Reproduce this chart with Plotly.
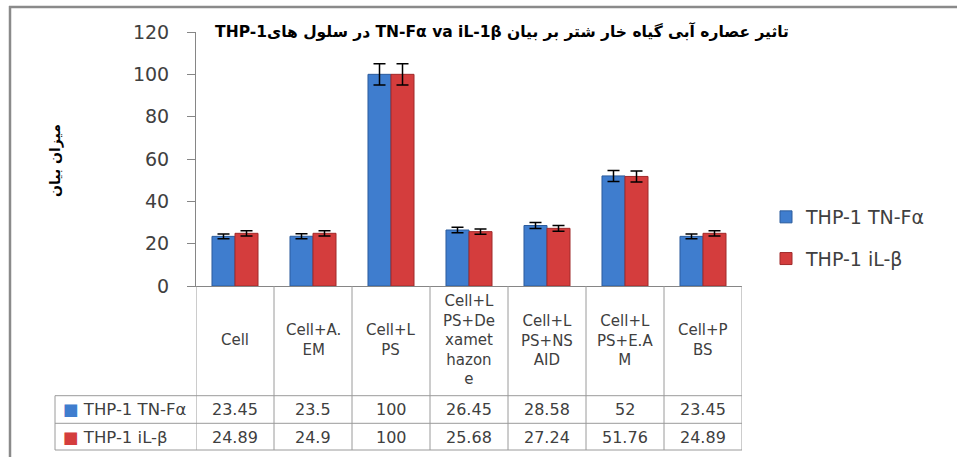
import plotly.graph_objects as go

# ---------------- data ----------------
categories = ["Cell", "Cell+A.EM", "Cell+LPS", "Cell+LPS+Dexamethazone",
              "Cell+LPS+NSAID", "Cell+LPS+E.AM", "Cell+PBS"]
category_labels = ["Cell", "Cell+A.<br>EM", "Cell+L<br>PS",
                   "Cell+L<br>PS+De<br>xamet<br>hazon<br>e",
                   "Cell+L<br>PS+NS<br>AID", "Cell+L<br>PS+E.A<br>M", "Cell+P<br>BS"]
series_names = ["THP-1 TN-Fα", "THP-1 iL-β"]
tnf_values = [23.45, 23.5, 100, 26.45, 28.58, 52, 23.45]
il_values = [24.89, 24.9, 100, 25.68, 27.24, 51.76, 24.89]
error_percent = 5
y_ticks = [0, 20, 40, 60, 80, 100, 120]

title_text = "تاثیر عصاره آبی گیاه خار شتر بر بیان TN-Fα va iL-1β در سلول هایTHP-1"
y_title_text = "میزان بیان"

# ---------------- style ----------------
BLUE = "#3F7DCE"
BLUE_EDGE = "#2C5C9C"
RED = "#D43D3D"
RED_EDGE = "#A02A2A"
GRID = "#9A9A9A"
AXIS = "#868686"
TXT = "#404040"
FONT = "DejaVu Sans"

W, H = 957, 457
L, R, T, B = 196, 215, 32, 171
PW = W - L - R
PH = H - T - B


def px_x(p):
    return (p - L) / PW


def px_y(p):
    return (H - B - p) / PH


fig = go.Figure()
for name, vals, col, edge in [(series_names[0], tnf_values, BLUE, BLUE_EDGE),
                              (series_names[1], il_values, RED, RED_EDGE)]:
    fig.add_trace(go.Bar(
        x=categories, y=vals, name=name, legendgroup=name,
        marker=dict(color=col, line=dict(color=edge, width=1)),
        error_y=dict(type="percent", value=error_percent, color="black",
                     thickness=1.5, width=6),
    ))

# ---------------- data table ----------------
shapes = []
annotations = []
y_row1_top = px_y(395.7)
y_row2_top = px_y(423.3)
y_bottom = px_y(450)
x_left = px_x(55)
y_head_mid = px_y(340)
y_r1_mid = px_y(409.5)
y_r2_mid = px_y(437)

for i in range(len(categories) + 1):
    shapes.append(dict(type="line", xref="x", yref="paper",
                       x0=i - 0.5, x1=i - 0.5, y0=0, y1=y_bottom,
                       line=dict(color=GRID, width=1)))
for yy in (y_row1_top, y_row2_top, y_bottom):
    shapes.append(dict(type="line", xref="paper", yref="paper",
                       x0=x_left, x1=1, y0=yy, y1=yy,
                       line=dict(color=GRID, width=1)))
shapes.append(dict(type="line", xref="paper", yref="paper",
                   x0=x_left, x1=x_left, y0=y_row1_top, y1=y_bottom,
                   line=dict(color=GRID, width=1)))

# outer chart border (left and top edges visible)
shapes.append(dict(type="line", xref="paper", yref="paper",
                   x0=px_x(10), x1=px_x(10), y0=px_y(6), y1=px_y(460),
                   line=dict(color="#8A8A8A", width=2.5)))
shapes.append(dict(type="line", xref="paper", yref="paper",
                   x0=px_x(9), x1=px_x(960), y0=px_y(7), y1=px_y(7),
                   line=dict(color="#8A8A8A", width=2.5)))

for cat, lab, v1, v2 in zip(categories, category_labels, tnf_values, il_values):
    annotations.append(dict(x=cat, y=y_head_mid, xref="x", yref="paper",
                            text=lab, showarrow=False, yanchor="middle",
                            font=dict(family=FONT, size=15, color=TXT)))
    annotations.append(dict(x=cat, y=y_r1_mid, xref="x", yref="paper",
                            text=f"{v1:g}", showarrow=False, yanchor="middle",
                            font=dict(family=FONT, size=16, color=TXT)))
    annotations.append(dict(x=cat, y=y_r2_mid, xref="x", yref="paper",
                            text=f"{v2:g}", showarrow=False, yanchor="middle",
                            font=dict(family=FONT, size=16, color=TXT)))

for name, col, yy in [(series_names[0], BLUE, y_r1_mid), (series_names[1], RED, y_r2_mid)]:
    annotations.append(dict(x=px_x(61), y=yy, xref="paper", yref="paper",
                            xanchor="left", yanchor="middle", showarrow=False,
                            text=f"<span style='color:{col}'>■</span> {name}",
                            font=dict(family=FONT, size=16.5, color=TXT)))

# y axis title
annotations.append(dict(x=px_x(55), y=px_y(160), xref="paper", yref="paper",
                        text=f"<b>{y_title_text}</b>", textangle=-90, showarrow=False,
                        xanchor="center", yanchor="middle",
                        font=dict(family=FONT, size=14, color="black")))

fig.update_layout(
    width=W, height=H,
    margin=dict(l=L, r=R, t=T, b=B, autoexpand=False),
    paper_bgcolor="white", plot_bgcolor="white",
    barmode="group", bargap=0.41, bargroupgap=0,
    title=dict(text="<b>\u202B" + title_text + "\u202C</b>",
               x=px_x(502), xref="paper", xanchor="center",
               y=1 - 32 / H, yref="container", yanchor="middle",
               font=dict(family=FONT, size=15.5, color="black")),
    xaxis=dict(type="category", range=[-0.5, len(categories) - 0.5],
               showticklabels=False, showline=True, linecolor=AXIS, linewidth=1,
               ticks="", showgrid=False, zeroline=False, fixedrange=True),
    yaxis=dict(range=[0, 120], tickvals=y_ticks, showline=True, linecolor=AXIS,
               linewidth=1, ticks="outside", ticklen=8, tickcolor=AXIS,
               ticklabelstandoff=14, showgrid=False, zeroline=False,
               tickfont=dict(family=FONT, size=19, color=TXT)),
    legend=dict(x=px_x(766), y=px_y(238), xanchor="left", yanchor="middle",
                traceorder="grouped", tracegroupgap=14,
                font=dict(family=FONT, size=19, color=TXT),
                bgcolor="rgba(0,0,0,0)"),
    shapes=shapes,
    annotations=annotations,
    showlegend=True,
)

fig.write_html("out.html", config={"displayModeBar": False},
               post_script="document.body.style.margin='0';document.body.style.overflow='hidden';")
